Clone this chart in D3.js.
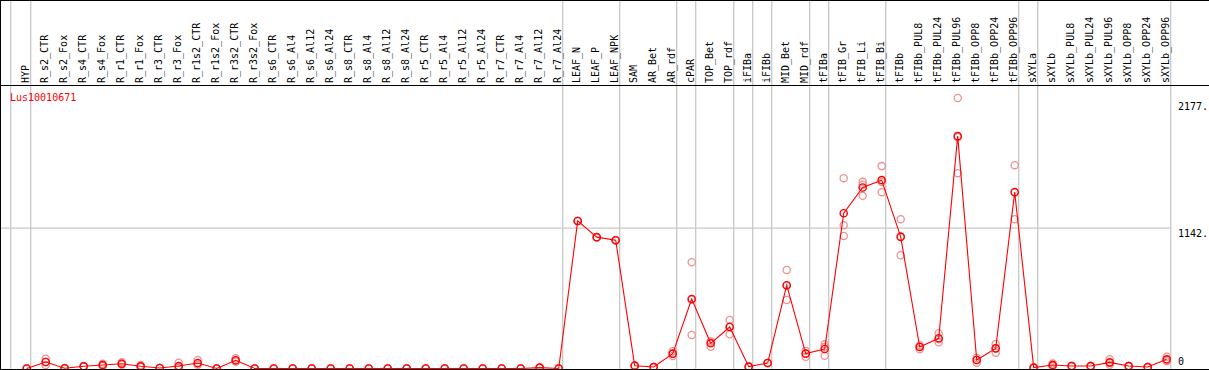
<!DOCTYPE html>
<html>
<head>
<meta charset="utf-8">
<script src="https://cdn.jsdelivr.net/npm/d3@7/dist/d3.min.js"></script>
<style>
  html, body { margin: 0; padding: 0; background: #fff; }
  svg { display: block; }
  text { font-family: "DejaVu Sans Mono", monospace; font-size: 10px; }
</style>
</head>
<body>
<script>
const categories = ["HYP","R_s2_CTR","R_s2_Fox","R_s4_CTR","R_s4_Fox","R_r1_CTR","R_r1_Fox","R_r3_CTR","R_r3_Fox",
  "R_r1s2_CTR","R_r1s2_Fox","R_r3s2_CTR","R_r3s2_Fox","R_s6_CTR","R_s6_Al4","R_s6_Al12","R_s6_Al24",
  "R_s8_CTR","R_s8_Al4","R_s8_Al12","R_s8_Al24","R_r5_CTR","R_r5_Al4","R_r5_Al12","R_r5_Al24",
  "R_r7_CTR","R_r7_Al4","R_r7_Al12","R_r7_Al24","LEAF_N","LEAF_P","LEAF_NPK","SAM","AR_Bet","AR_rdf",
  "cPAR","TOP_Bet","TOP_rdf","iFIBa","iFIBb","MID_Bet","MID_rdf","tFIBa","tFIB_Gr","tFIB_Li","tFIB_Bi",
  "tFIBb","tFIBb_PUL8","tFIBb_PUL24","tFIBb_PUL96","tFIBb_OPP8","tFIBb_OPP24","tFIBb_OPP96","sXYLa",
  "sXYLb","sXYLb_PUL8","sXYLb_PUL24","sXYLb_PUL96","sXYLb_OPP8","sXYLb_OPP24","sXYLb_OPP96"];

const meanValues = [0,53,2,18,28,39,18,4,20,45,0,67,0,0,0,0,0,0,0,0,0,0,0,0,0,0,0,7,0,
  1201,1069,1044,23,12,121,566,205,338,15,45,678,121,159,1264,1473,1533,
  1071,175,246,1891,69,164,1435,7,28,20,20,50,20,12,75];

const rep1 = [0,80,0,18,38,50,28,4,47,69,0,83,0,0,0,0,0,0,0,0,0,0,0,0,0,0,0,7,0,
  1201,1069,1044,23,12,102,865,178,395,15,45,802,145,197,1549,1495,1647,
  1215,156,287,2201,88,199,1655,7,40,20,20,75,20,12,96];
const rep2 = [0,28,0,18,20,30,12,4,8,30,0,55,0,0,0,0,0,0,0,0,0,0,0,0,0,0,0,7,0,
  1201,1069,1044,23,12,140,273,220,278,15,45,558,96,104,1166,1405,1435,
  922,190,213,1590,47,129,1215,7,18,20,20,30,20,12,60];
const rep3 = [0,53,5,18,26,37,14,4,5,36,0,63,0,0,0,0,0,0,0,0,0,0,0,0,0,0,0,7,0,
  1201,1069,1044,23,12,121,560,217,341,15,45,674,122,176,1079,1519,1517,
  1076,179,238,1882,72,164,1435,7,26,20,20,45,20,12,69];

const groupEnds = ["HYP","R_r7_Al24","LEAF_NPK","AR_rdf","cPAR","TOP_rdf","iFIBa","iFIBb",
  "MID_rdf","tFIBa","tFIB_Bi","tFIBb_OPP96","sXYLa","sXYLb_OPP96"];
const yTickValues = [0, 1142, 2177];
const yTickLabels = ["0", "1142.", "2177."];
const geneName = "Lus10010671";

const W = 1209, H = 370;
const svg = d3.select("body").append("svg").attr("width", W).attr("height", H);

const x = d3.scalePoint().domain(categories).range([26.7, 1166.7]);
const y = d3.scaleLinear().domain([0, 2177]).range([368.5, 101]);
const step = x.step();

// vertical group separators
const sepX = [x("HYP") - step + 3].concat(groupEnds.map(c => x(c) + 4));
svg.append("g").selectAll("line").data(sepX).join("line")
  .attr("x1", d => d).attr("x2", d => d)
  .attr("y1", 0).attr("y2", 369)
  .attr("stroke", "#c8c8c8").attr("stroke-width", 1.3);

// horizontal grid at middle tick
svg.append("line")
  .attr("x1", 0).attr("x2", sepX[sepX.length - 1])
  .attr("y1", y(1142)).attr("y2", y(1142))
  .attr("stroke", "#c8c8c8").attr("stroke-width", 1.3);

// frame lines
svg.append("line").attr("x1", 0).attr("x2", W).attr("y1", 0.5).attr("y2", 0.5).attr("stroke", "#000");
svg.append("line").attr("x1", 0).attr("x2", W).attr("y1", 85.5).attr("y2", 85.5).attr("stroke", "#000");
svg.append("line").attr("x1", 0.5).attr("x2", 0.5).attr("y1", 0).attr("y2", H).attr("stroke", "#000");

// category labels
svg.append("g").selectAll("text").data(categories).join("text")
  .attr("transform", d => `translate(${x(d) + 2.5},83) rotate(-90)`)
  .attr("text-anchor", "start")
  .attr("fill", "#000")
  .text(d => d);

// gene name
svg.append("text").attr("x", 10).attr("y", 101).attr("fill", "#ff0000").text(geneName);

// y tick labels
svg.append("g").selectAll("text").data(yTickValues).join("text")
  .attr("x", 1178)
  .attr("y", d => d === 0 ? y(d) - 3.5 : y(d) + 9)
  .attr("fill", "#000")
  .text((d, i) => yTickLabels[i]);

// replicate circles
const reps = [];
[rep1, rep2, rep3].forEach(arr => arr.forEach((v, i) => reps.push({c: categories[i], v})));
svg.append("g").selectAll("circle").data(reps).join("circle")
  .attr("cx", d => x(d.c)).attr("cy", d => y(d.v)).attr("r", 3.6)
  .attr("fill", "none").attr("stroke", "#f09090").attr("stroke-width", 1.3);

// mean line
const means = meanValues.map((v, i) => ({c: categories[i], v}));
svg.append("path").datum(means)
  .attr("d", d3.line().x(d => x(d.c)).y(d => y(d.v)))
  .attr("fill", "none").attr("stroke", "#ff0000").attr("stroke-width", 1.1);

svg.append("g").selectAll("circle").data(means).join("circle")
  .attr("cx", d => x(d.c)).attr("cy", d => y(d.v)).attr("r", 3.6)
  .attr("fill", "none").attr("stroke", "#ff0000").attr("stroke-width", 1.4);

// bottom line
svg.append("line").attr("x1", 0).attr("x2", W).attr("y1", 369.5).attr("y2", 369.5).attr("stroke", "#000");
</script>
</body>
</html>
